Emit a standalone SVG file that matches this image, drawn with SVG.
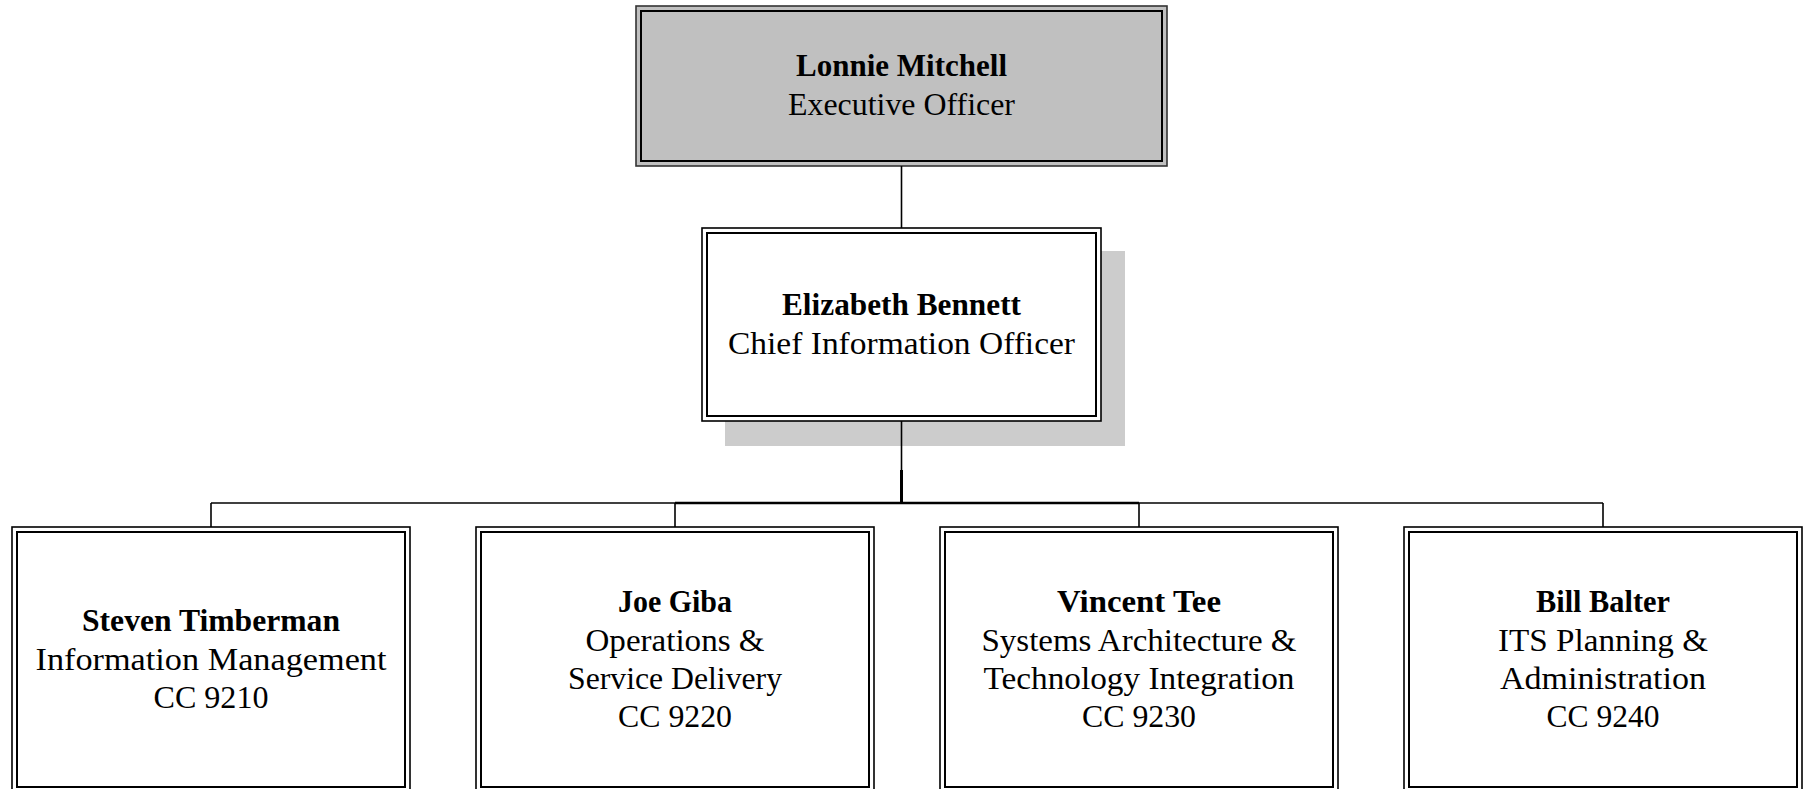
<svg xmlns="http://www.w3.org/2000/svg" width="1803" height="789" viewBox="0 0 1803 789">
<style>
text{font-family:"Liberation Serif","Times New Roman",serif;font-size:31px;fill:#000;text-anchor:middle}
.b{font-weight:bold}
.outer{fill:none;stroke:#000;stroke-width:1.6}
.inner{fill:none;stroke:#000;stroke-width:2}
.conn{fill:none;stroke:#000;stroke-width:1.6}
</style>
<rect width="1803" height="789" fill="#fff"/>
<g id="node-exec">
<rect x="636" y="6" width="531" height="160" fill="#c0c0c0" stroke="#333" stroke-width="1.6"/>
<rect class="inner" x="641" y="11" width="521" height="150"/>
<text class="b" x="901.5" y="76" textLength="211" lengthAdjust="spacingAndGlyphs">Lonnie Mitchell</text>
<text x="901.5" y="115" textLength="227" lengthAdjust="spacingAndGlyphs">Executive Officer</text>
</g>
<g id="node-cio">
<rect x="725" y="251" width="400" height="195" fill="#cccccc"/>
<rect x="702" y="228" width="399" height="193" fill="#fff" stroke="#000" stroke-width="1.6"/>
<rect class="inner" x="707" y="233" width="389" height="183"/>
<text class="b" x="901.5" y="315" textLength="239" lengthAdjust="spacingAndGlyphs">Elizabeth Bennett</text>
<text x="901.5" y="354" textLength="347" lengthAdjust="spacingAndGlyphs">Chief Information Officer</text>
</g>
<g id="node-im">
<rect class="outer" x="12" y="527" width="398" height="266" fill="#fff"/>
<rect class="inner" x="17" y="532" width="388" height="255"/>
<text class="b" x="211" y="631" textLength="258" lengthAdjust="spacingAndGlyphs">Steven Timberman</text>
<text x="211" y="670" textLength="351" lengthAdjust="spacingAndGlyphs">Information Management</text>
<text x="211" y="708" textLength="115" lengthAdjust="spacingAndGlyphs">CC 9210</text>
</g>
<g id="node-ops">
<rect class="outer" x="476" y="527" width="398" height="266" fill="#fff"/>
<rect class="inner" x="481" y="532" width="388" height="255"/>
<text class="b" x="675" y="612" textLength="114" lengthAdjust="spacingAndGlyphs">Joe Giba</text>
<text x="675" y="651" textLength="179" lengthAdjust="spacingAndGlyphs">Operations &amp;</text>
<text x="675" y="689" textLength="214" lengthAdjust="spacingAndGlyphs">Service Delivery</text>
<text x="675" y="727" textLength="114" lengthAdjust="spacingAndGlyphs">CC 9220</text>
</g>
<g id="node-sys">
<rect class="outer" x="940" y="527" width="398" height="266" fill="#fff"/>
<rect class="inner" x="945" y="532" width="388" height="255"/>
<text class="b" x="1139" y="612" textLength="164" lengthAdjust="spacingAndGlyphs">Vincent Tee</text>
<text x="1139" y="651" textLength="315" lengthAdjust="spacingAndGlyphs">Systems Architecture &amp;</text>
<text x="1139" y="689" textLength="311" lengthAdjust="spacingAndGlyphs">Technology Integration</text>
<text x="1139" y="727" textLength="114" lengthAdjust="spacingAndGlyphs">CC 9230</text>
</g>
<g id="node-its">
<rect class="outer" x="1404" y="527" width="398" height="266" fill="#fff"/>
<rect class="inner" x="1409" y="532" width="388" height="255"/>
<text class="b" x="1603" y="612" textLength="134" lengthAdjust="spacingAndGlyphs">Bill Balter</text>
<text x="1603" y="651" textLength="210" lengthAdjust="spacingAndGlyphs">ITS Planning &amp;</text>
<text x="1603" y="689" textLength="206" lengthAdjust="spacingAndGlyphs">Administration</text>
<text x="1603" y="727" textLength="113" lengthAdjust="spacingAndGlyphs">CC 9240</text>
</g>
<g id="connectors">
<line class="conn" x1="901.5" y1="166" x2="901.5" y2="228"/>
<line class="conn" x1="901.5" y1="421" x2="901.5" y2="503"/>
<line x1="901.5" y1="470" x2="901.5" y2="503" stroke="#000" stroke-width="3"/>
<line class="conn" x1="211" y1="503" x2="1603" y2="503"/>
<line x1="675" y1="503" x2="1139" y2="503" stroke="#000" stroke-width="2.4"/>
<line class="conn" x1="211" y1="503" x2="211" y2="527"/>
<line class="conn" x1="675" y1="503" x2="675" y2="527"/>
<line class="conn" x1="1139" y1="503" x2="1139" y2="527"/>
<line class="conn" x1="1603" y1="503" x2="1603" y2="527"/>
</g>
</svg>
